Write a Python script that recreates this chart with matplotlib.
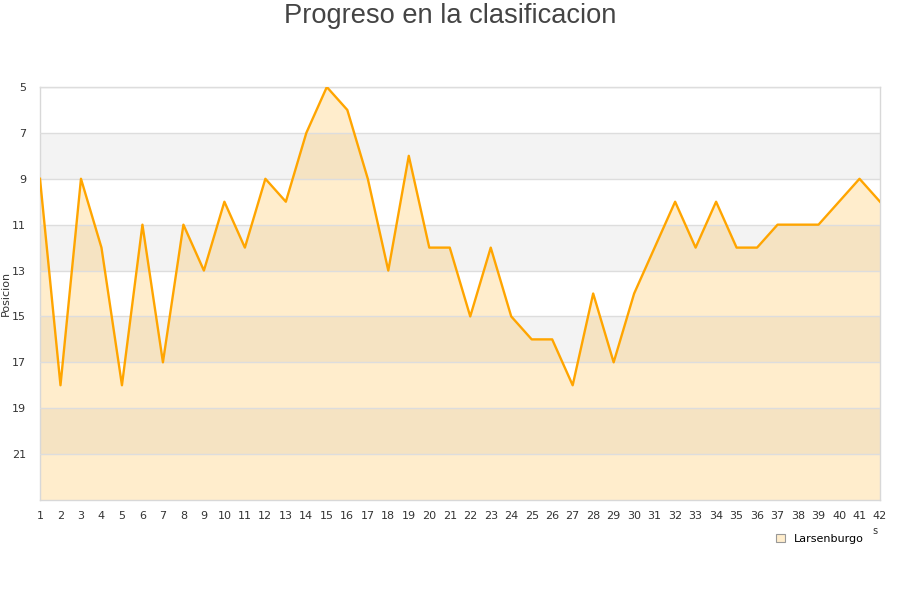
import numpy as np
import matplotlib
matplotlib.use("Agg")
import matplotlib.pyplot as plt
from matplotlib.patches import Patch

# jornadas and posicion of the team
jornadas = list(range(1, 43))
posicion = [9, 18, 9, 12, 18, 11, 17, 11, 13, 10,
            12, 9, 10, 7, 5, 6, 9, 13, 8, 12,
            12, 15, 12, 15, 16, 16, 18, 14, 17, 14,
            12, 10, 12, 10, 12, 12, 11, 11, 11, 10,
            9, 10]
y_ticks = [5, 7, 9, 11, 13, 15, 17, 19, 21]
equipo = "Larsenburgo"

line_col = "#ffa500"
grid_col = "#dddddd"
band_col = "#f3f3f3"

fig = plt.figure(figsize=(9, 6), dpi=100)
ax = fig.add_axes([40 / 900, 100 / 600, 840 / 900, 413 / 600])

# alternating bands
for lo in range(7, 23, 4):
    ax.axhspan(lo, lo + 2, color=band_col, zorder=0, lw=0)

ax.fill_between(jornadas, posicion, 23, color=line_col, alpha=0.2, lw=0, zorder=1)
ax.plot(jornadas, posicion, color=line_col, lw=1.7, zorder=3)

ax.set_xlim(1, 42)
ax.set_ylim(23, 5)
ax.set_yticks(y_ticks)
ax.set_xticks(jornadas)
ax.tick_params(axis="both", length=0, labelsize=8, colors="#333333", pad=8)
ax.tick_params(axis="y", pad=10)
ax.grid(axis="y", color=grid_col, lw=1, zorder=2)
ax.set_axisbelow(False)
for s in ax.spines.values():
    s.set_color("#d8d8d8")
    s.set_linewidth(1)
ax.set_ylabel("Posicion", fontsize=8, color="#333333")
ax.yaxis.set_label_coords(-29 / 840, 0.5)

fig.text(0.5, 1 - 16 / 600, "Progreso en la clasificacion", ha="center", va="center",
         fontsize=19.6, color="#444444", family="Liberation Sans")

fig.text(875 / 900, 1 - 531 / 600, "s", ha="center", va="center", fontsize=7, color="#333333")

leg = fig.legend(handles=[Patch(facecolor="#ffedcc", edgecolor="#999999", lw=0.8, label=equipo)],
                 loc="center", bbox_to_anchor=(820 / 900, 1 - 539 / 600), frameon=False,
                 fontsize=8, handlelength=0.8, handleheight=0.8, handletextpad=0.8)

fig.savefig("out.png", dpi=100)
